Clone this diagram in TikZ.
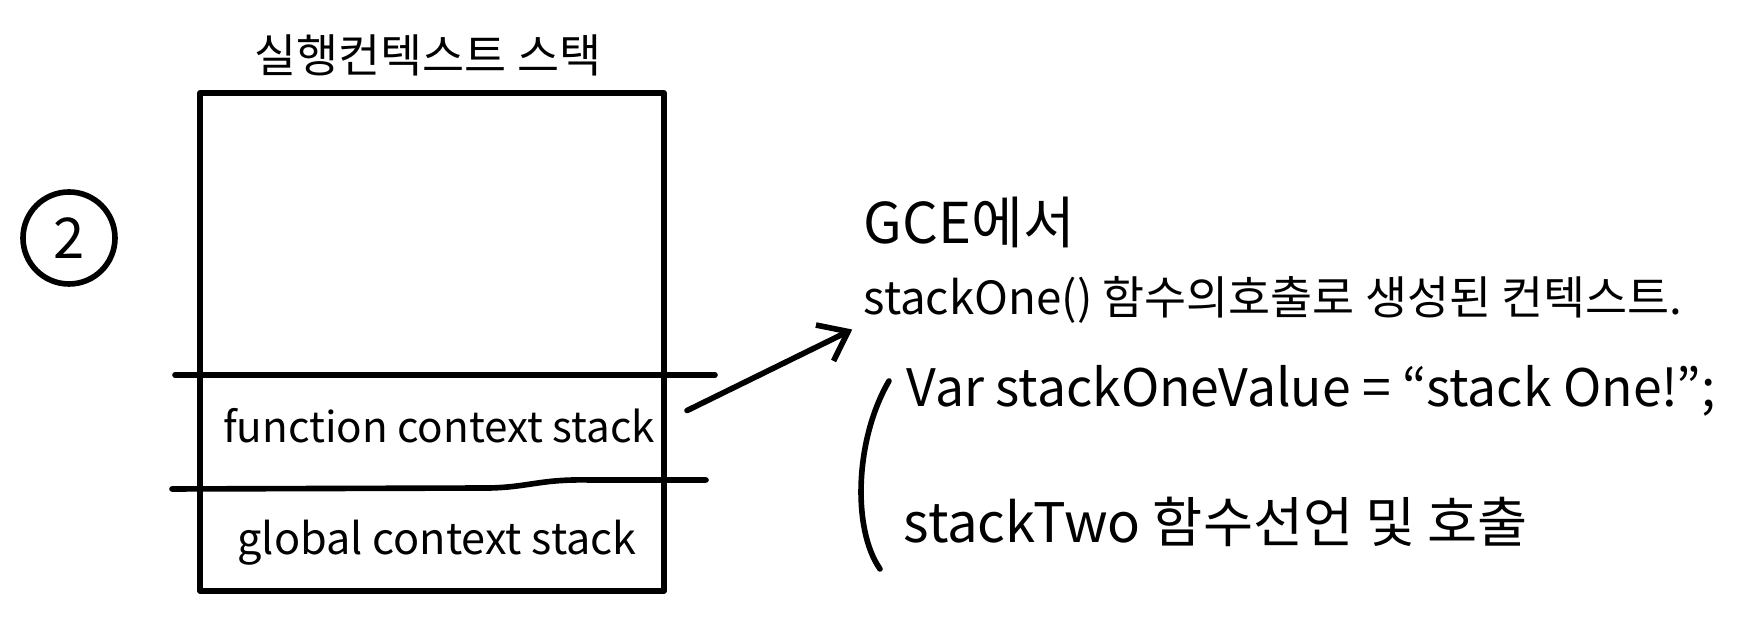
\documentclass[tikz,border=0pt]{standalone}
\usepackage{fontspec}
\setmainfont{Noto Sans CJK KR}
\usetikzlibrary{arrows.meta,positioning,calc}

\begin{document}
\begin{tikzpicture}[
                font=\fontsize{13}{15}\selectfont,
                stroke/.style={line width=1.6pt, line cap=round, line join=round},
                lbl/.style={inner sep=0pt, align=center},
                txt/.style={inner sep=0pt, anchor=west},
                arr/.style={stroke, -{Straight Barb[length=2.6mm, width=4mm]}},
            ]
            \useasboundingbox (0,0) rectangle (17.43,6.39);
            % --- 실행 컨텍스트 스택 상자 ---
            \coordinate (bnw) at (2.00,5.46);
            \coordinate (bse) at (6.64,0.48);
            \draw[stroke] (bnw) rectangle (bse);
            \node[lbl] (title) at (4.28,5.84) {실행컨텍스트 스택};
            % --- 구분선 ---
            \coordinate (l1a) at (1.75,2.64);
            \coordinate (l1b) at (7.15,2.64);
            \draw[stroke] (l1a) -- (l1b);
            \coordinate (l2a) at (1.72,1.50);
            \coordinate (l2b) at (7.06,1.59);
            \draw[stroke] (l2a) -- (4.9,1.51) .. controls (5.3,1.52) and (5.4,1.60) .. (5.9,1.59) -- (l2b);
            % --- 스택 내용 ---
            \node[lbl, font=\fontsize{12}{14}\selectfont] (fcs) at (4.39,2.13) {function context stack};
            \node[lbl, font=\fontsize{12.3}{14}\selectfont] (gcs) at (4.37,0.96) {global context stack};
            % --- 번호 ---
            \node[lbl, draw, circle, line width=1.6pt, minimum size=0.92cm, font=\fontsize{16}{18}\selectfont] (num) at (0.69,4.01) {2};
            % --- 설명 ---
            \node[txt, font=\fontsize{16}{18}\selectfont] (gce) at (8.63,4.17) {GCE에서};
            \node[txt] (one) at (8.63,3.39) {stackOne() 함수의호출로 생성된 컨텍스트.};
            \node[txt, font=\fontsize{14.7}{17}\selectfont] (val) at (9.06,2.48) {Var stackOneValue = “stack One!”;};
            \node[txt, font=\fontsize{15.5}{18}\selectfont] (two) at (9.03,1.17) {stackTwo 함수선언 및 호출};
            % --- 괄호 ---
            \coordinate (bt) at (8.89,2.58);
            \coordinate (bb) at (8.80,0.70);
            \draw[stroke] (bt) .. controls (8.55,2.0) and (8.52,1.1) .. (bb);
            % --- 화살표 ---
            \draw[arr, shorten <=0.35cm, shorten >=0.12cm] (fcs.east) -- (one.south west);
        \end{tikzpicture}
\end{document}
